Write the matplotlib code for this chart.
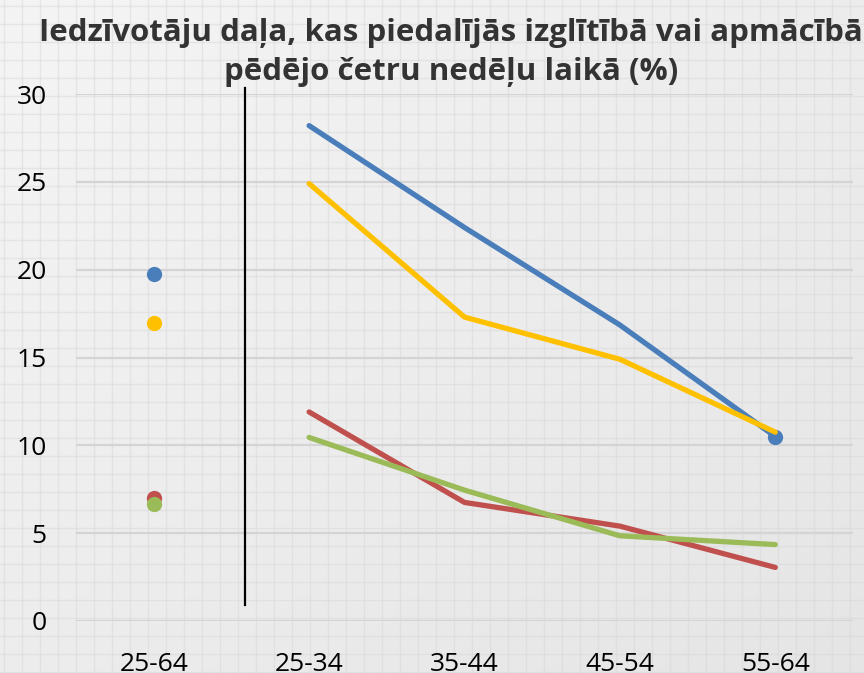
import numpy as np
import matplotlib
matplotlib.use("Agg")
import matplotlib.pyplot as plt

categories = ["25-64", "25-34", "35-44", "45-54", "55-64"]
blue = [19.75, 28.2, 22.4, 16.85, 10.5]
yellow = [16.95, 24.9, 17.3, 14.9, 10.75]
red = [7.0, 11.9, 6.75, 5.4, 3.05]
green = [6.65, 10.45, 7.45, 4.85, 4.35]
yticks = [0, 5, 10, 15, 20, 25, 30]
title = "Iedzīvotāju daļa, kas piedalījās izglītībā vai apmācībā\npēdējo četru nedēļu laikā (%)"

colors = {"blue": "#4a7ebb", "yellow": "#ffc000", "red": "#c0504d", "green": "#9bbb59"}

W, H = 864, 673
fig = plt.figure(figsize=(W / 100, H / 100), dpi=100)

# background with gradient and paper grid
bg = fig.add_axes([0, 0, 1, 1], zorder=-10)
yy, xx = np.mgrid[0:H, 0:W]
grad = 0.955 - 0.05 * (xx / W) * 0.6 - 0.05 * (yy / H) * 0.6
bg.imshow(grad, cmap="gray", vmin=0, vmax=1, extent=[0, W, H, 0], aspect="auto")
for gx in np.arange(4, W, 18):
    bg.axvline(gx, color="#d8d8d8", lw=1.0, alpha=0.5)
for gy in np.arange(6, H, 18):
    bg.axhline(gy, color="#d8d8d8", lw=1.0, alpha=0.5)
bg.set_xlim(0, W)
bg.set_ylim(H, 0)
bg.axis("off")

# main axes: x from 76 to 853 px, y 0 at 621, 30 at 94
left, right = 76 / W, 853 / W
bottom_px, top_px = 621, 94
ax = fig.add_axes([left, 1 - bottom_px / H, right - left, (bottom_px - top_px) / H])
ax.patch.set_alpha(0)
x = np.arange(len(categories))
ax.set_xlim(-0.5, len(categories) - 0.5)
ax.set_ylim(0, 30)

lw = 3.8
for vals, c in [(blue, "blue"), (red, "red"), (green, "green"), (yellow, "yellow")]:
    ax.plot(x[1:], vals[1:], color=colors[c], lw=lw, solid_capstyle="round", zorder=3)
    ax.plot(x[0], vals[0], "o", color=colors[c], ms=11, mec="none", zorder=4)
ax.plot(x[-1], blue[-1], "o", color=colors["blue"], ms=11, mec="none", zorder=2)

ax.set_yticks(yticks)
ax.set_xticks(x)
ax.set_xticklabels(categories)
ax.grid(axis="y", color="#d4d4d4", lw=1.6)
ax.set_axisbelow(True)
for s in ax.spines.values():
    s.set_visible(False)
ax.tick_params(length=0, labelsize=19, colors="#000000", pad=0)
for lab in ax.get_xticklabels() + ax.get_yticklabels():
    lab.set_fontfamily("Open Sans")
ax.tick_params(axis="x", pad=22)
ax.tick_params(axis="y", pad=21)

# separator line
fig.add_artist(plt.Line2D([245 / W, 245 / W], [1 - 88 / H, 1 - 605 / H], color="black", lw=1.6))

fig.text(451 / W, 1 - 52.5 / H, title, ha="center", va="center", fontsize=22.5,
         fontweight="bold", family="Open Sans", color="#333333", linespacing=1.42)

fig.savefig("out.png", dpi=100)
